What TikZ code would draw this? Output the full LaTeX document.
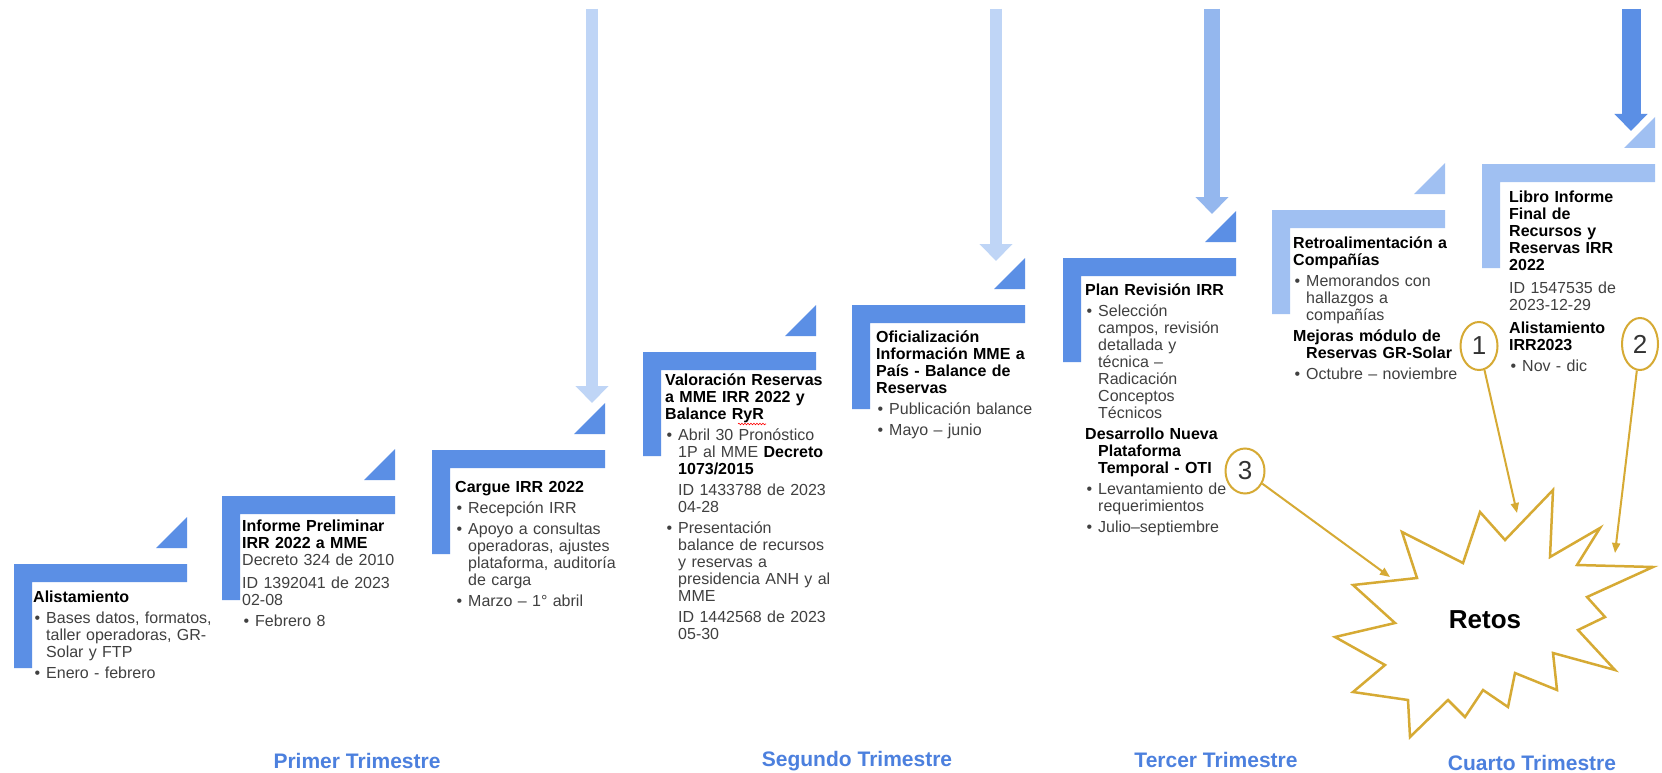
\documentclass[tikz,border=0pt]{standalone}
\usepackage{fontspec}
\setmainfont{Liberation Sans}
\usepackage{xcolor}
\usepackage{tikz}
\usetikzlibrary{arrows.meta,positioning,shapes.geometric,calc,decorations.pathmorphing}

\definecolor{stepblue}{RGB}{91,143,229}
\definecolor{steplight}{RGB}{160,192,242}
\definecolor{arrowpale}{RGB}{191,213,246}
\definecolor{arrowmid}{RGB}{148,183,238}
\definecolor{retogold}{RGB}{214,170,52}
\definecolor{trimblue}{RGB}{76,128,222}
\definecolor{bodygray}{RGB}{64,64,64}

\newcommand{\ttl}[1]{{\bfseries\color{black}#1}}
\newcommand{\bitem}{\par\vspace{4pt}\hangindent=13pt\hangafter=1\noindent\makebox[13pt][l]{\hspace{1.5pt}•}}
\newcommand{\bhang}{\par\vspace{4pt}\hangindent=13pt\hangafter=1\noindent}
\newcommand{\bind}{\par\vspace{4pt}\hangindent=13pt\hangafter=0\noindent}
\newcommand{\bplain}{\par\vspace{6pt}\noindent}

\begin{document}
\begin{tikzpicture}[x=1pt,y=-1pt,
  lstep/.pic={\fill[pic actions] (0,0) -- (173,0) -- (173,18) -- (18,18) -- (18,104) -- (0,104) -- cycle;
    \fill[pic actions] (142,-16) -- (173,-16) -- (173,-47) -- cycle;
    \coordinate (-tri) at (142,-47);},
  txt/.style={align=left,text width=190pt,inner sep=0pt,font=\fontsize{16}{17}\selectfont,text=bodygray},
  trim/.style={font=\fontsize{21}{24}\selectfont\bfseries,text=trimblue},
  flow/.style={line width=12pt,-{Triangle[length=17pt,width=32pt]}},
  numcirc/.style={ellipse,draw=retogold,line width=2pt,inner sep=0pt,
    font=\fontsize{26}{26}\selectfont,text=black!80},
  feed/.style={retogold,line width=2pt,-{Triangle[length=10pt,width=8pt]}}]
\path[fill=white,use as bounding box] (0,0) rectangle (1662,773);

\coordinate (c1) at (14,564);
\coordinate (c2) at (222,496);
\coordinate (c3) at (432,450);
\coordinate (c4) at (643,352);
\coordinate (c5) at (852,305);
\coordinate (c6) at (1063,258);
\coordinate (c7) at (1272,210);
\coordinate (c8) at (1482,164);
\pic[fill=stepblue] (s1) at (c1) {lstep};
\pic[fill=stepblue] (s2) at (c2) {lstep};
\pic[fill=stepblue] (s3) at (c3) {lstep};
\pic[fill=stepblue] (s4) at (c4) {lstep};
\pic[fill=stepblue] (s5) at (c5) {lstep};
\pic[fill=stepblue] (s6) at (c6) {lstep};
\pic[fill=steplight] (s7) at (c7) {lstep};
\pic[fill=steplight] (s8) at (c8) {lstep};

\coordinate (a1) at (592,9);
\coordinate (a2) at (996,9);
\coordinate (a3) at (1212,9);
\coordinate (a4) at (1631,9);
\draw[flow,arrowpale] (a1) -- (a1 |- s3-tri);
\draw[flow,arrowpale] (a2) -- ($(a2 |- s5-tri)+(0,3)$);
\draw[flow,arrowmid,line width=16pt] (a3) -- ($(a3 |- s6-tri)+(0,3)$);
\draw[flow,stepblue,line width=19pt] (a4) -- ($(a4 |- s8-tri)+(0,14)$);

\node[txt,below right=27pt and 19pt of c1] (alist) {\ttl{Alistamiento}
  \bitem Bases datos, formatos,\newline taller operadoras, GR-\newline Solar y FTP
  \bitem Enero - febrero\par};
\node[txt,below right=24pt and 20pt of c2] (inform) {\ttl{Informe Preliminar\newline IRR 2022 a MME}\newline
  Decreto 324 de 2010
  \bplain ID 1392041 de 2023\newline 02-08
  \bitem Febrero 8\par};
\node[txt,below right=31pt and 23pt of c3] (cargue) {\ttl{Cargue IRR 2022}
  \bitem Recepción IRR
  \bitem Apoyo a consultas\newline operadoras, ajustes\newline plataforma, auditoría\newline de carga
  \bitem Marzo – 1° abril\par};
\node[txt,below right=22pt and 22pt of c4] (valor) {\ttl{Valoración Reservas\newline a MME IRR 2022 y\newline Balance RyR}
  \bitem Abril 30 Pronóstico\newline 1P al MME \ttl{Decreto}\newline \ttl{1073/2015}
  \bind ID 1433788 de 2023\newline 04-28
  \bitem Presentación\newline balance de recursos\newline y reservas a\newline presidencia ANH y al\newline MME
  \bind ID 1442568 de 2023\newline 05-30\par};
\draw[red,line width=0.6pt,decorate,decoration={snake,amplitude=0.8pt,segment length=3pt}]
  (738,424) -- (766,424);
\node[txt,below right=26pt and 24pt of c5] (ofic) {\ttl{Oficialización\newline Información MME a\newline País - Balance de\newline Reservas}
  \bitem Publicación balance
  \bitem Mayo – junio\par};
\node[txt,below right=26pt and 22pt of c6] (plan) {\ttl{Plan Revisión IRR}
  \bitem Selección\newline campos, revisión\newline detallada y\newline técnica –\newline Radicación\newline Conceptos\newline Técnicos
  \bhang\ttl{Desarrollo Nueva\newline Plataforma\newline Temporal - OTI}
  \bitem Levantamiento de\newline requerimientos
  \bitem Julio–septiembre\par};
\node[txt,below right=27pt and 21pt of c7] (retro) {\ttl{Retroalimentación a\newline Compañías}
  \bitem Memorandos con\newline hallazgos a\newline compañías
  \bhang\ttl{Mejoras módulo de\newline Reservas GR-Solar}
  \bitem Octubre – noviembre\par};
\node[txt,below right=27pt and 27pt of c8] (libro) {\ttl{Libro Informe\newline Final de\newline Recursos y\newline Reservas IRR\newline 2022}
  \bplain ID 1547535 de\newline 2023-12-29
  \bplain\ttl{Alistamiento\newline IRR2023}
  \bitem Nov - dic\par};

\draw[retogold,line width=2.5pt,fill=white] (1553,490) -- (1550,557) -- (1600,528) -- (1577,565)
  -- (1653,567) -- (1587,597) -- (1605,617) -- (1578,630) -- (1615,670) -- (1553,653)
  -- (1557,690) -- (1515,673) -- (1508,707) -- (1483,690) -- (1465,717) -- (1448,700)
  -- (1410,737) -- (1408,700) -- (1353,692) -- (1385,665) -- (1335,637) -- (1395,623)
  -- (1353,585) -- (1417,578) -- (1402,532) -- (1463,563) -- (1480,512) -- (1505,540) -- cycle;
\node[font=\fontsize{26}{26}\selectfont\bfseries] (retos) at (1485,620) {Retos};

\node[numcirc,minimum width=37pt,minimum height=48pt] (n1) at (1479,346) {1};
\node[numcirc,minimum width=36pt,minimum height=52pt] (n2) at (1640,344) {2};
\node[numcirc,minimum width=39pt,minimum height=45pt] (n3) at (1245,471) {3};
\coordinate (h1) at (1517,513);
\coordinate (h2) at (1615,553);
\coordinate (h3) at (1390,577);
\draw[feed] (n1) -- (h1);
\draw[feed] (n2) -- (h2);
\draw[feed] (n3) -- (h3);

\node[trim] (primer) at (357,761) {Primer Trimestre};
\node[trim] (segundo) at (857,761) {Segundo Trimestre};
\node[trim] (tercer) at (1216,760) {Tercer Trimestre};
\node[trim] (cuarto) at (1532,763) {Cuarto Trimestre};
\end{tikzpicture}
\end{document}
